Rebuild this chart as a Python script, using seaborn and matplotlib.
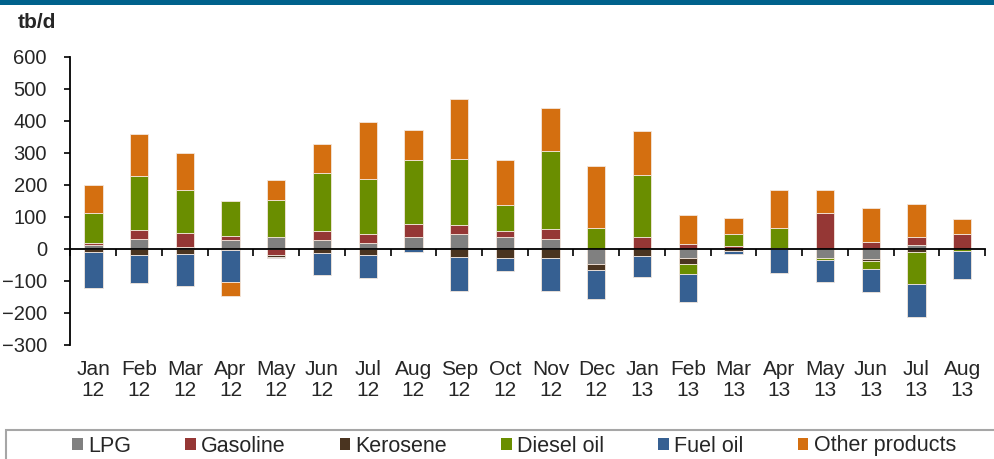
import numpy as np
import pandas as pd
import matplotlib
matplotlib.use("Agg")
import matplotlib.pyplot as plt
import seaborn as sns
from matplotlib.patches import Rectangle, Patch

months = ["Jan\n12", "Feb\n12", "Mar\n12", "Apr\n12", "May\n12", "Jun\n12", "Jul\n12",
          "Aug\n12", "Sep\n12", "Oct\n12", "Nov\n12", "Dec\n12", "Jan\n13", "Feb\n13",
          "Mar\n13", "Apr\n13", "May\n13", "Jun\n13", "Jul\n13", "Aug\n13"]
products = ["LPG", "Gasoline", "Kerosene", "Diesel oil", "Fuel oil", "Other products"]

lpg      = [13, 32, 7, 28, 37, 28, 20, 39, 46, 36, 31, -46, 0, -27, 0, 0, -28, -31, 14, 0]
gasoline = [5, 27, 42, 14, -18, 27, 27, 39, 29, 20, 33, 0, 38, 15, 8, 4, 113, 21, 25, 46]
kerosene = [-10, -18, -15, -4, -8, -12, -18, 0, -25, -27, -28, -21, -21, -21, -5, 0, 0, -5, -8, 0]
diesel   = [95, 168, 135, 109, 117, 183, 172, 201, 206, 83, 242, 66, 193, -30, 38, 62, -5, -26, -101, -7]
fuel     = [-113, -87, -101, -98, -3, -70, -73, -8, -106, -42, -102, -88, -65, -87, -12, -76, -70, -72, -102, -87]
other    = [88, 133, 117, -44, 61, 89, 178, 93, 189, 139, 134, 192, 138, 92, 52, 119, 70, 108, 102, 49]

colors = ["#808080", "#953735", "#4A3420", "#6A8E00", "#366092", "#D46F10"]

sns.set_theme(style="white")
plt.rcParams["font.family"] = ["Liberation Sans", "DejaVu Sans"]

W, H = 995, 459
fig = plt.figure(figsize=(W / 100, H / 100), dpi=100)
ax = fig.add_axes([70.5 / W, (H - 345) / H, (985 - 70.5) / W, (345 - 57) / H])

series = [lpg, gasoline, kerosene, diesel, fuel, other]
n = len(months)
pos_base = np.zeros(n)
neg_base = np.zeros(n)
for name, vals, col in zip(products, series, colors):
    v = np.array(vals, dtype=float)
    bottom = np.where(v >= 0, pos_base, neg_base)
    df = pd.DataFrame({"month": months, "value": v})
    sns.barplot(data=df, x="month", y="value", order=months, bottom=bottom,
                color=col, saturation=1, width=0.4, edgecolor="#f3e6dc",
                linewidth=0.6, errorbar=None, ax=ax)
    pos_base += np.where(v > 0, v, 0)
    neg_base += np.where(v < 0, v, 0)

ax.set_xlim(-0.5, n - 0.5)
ax.set_ylim(-300, 600)
ax.set_yticks(range(-300, 601, 100))
ax.set_xlabel("")
ax.set_ylabel("")
for s in ["top", "right", "bottom"]:
    ax.spines[s].set_visible(False)
ax.spines["left"].set_color("black")
ax.spines["left"].set_linewidth(1.3)
ax.tick_params(axis="y", direction="out", length=4, width=1.2, color="black",
               labelsize=14.5, pad=13, left=True)
ax.tick_params(axis="x", length=0, labelsize=15, pad=11)
for lab in ax.get_xticklabels():
    lab.set_linespacing(1.1)

sec = ax.secondary_xaxis((0 - (-300)) / 900)
sec.set_xticks(np.arange(-0.5, n, 1))
sec.tick_params(direction="out", length=5, width=1.2, color="black", labelbottom=False,
                bottom=True)
sec.spines["bottom"].set_linewidth(1.3)
sec.spines["bottom"].set_color("black")
sec.set_zorder(5)

# top banner and unit label
fig.add_artist(Rectangle((0, 1 - 5 / H), 1, 5 / H, transform=fig.transFigure,
                         facecolor="#00628C", edgecolor="none"))
fig.text(18 / W, 1 - 22 / H, "tb/d", fontsize=15, fontweight="bold", va="center", ha="left")

# legend frame and legend
fig.add_artist(Rectangle((6 / W, -0.1), 1.2, (H - 430) / H + 0.1, transform=fig.transFigure,
                         fill=False, edgecolor="#a6a6a6", linewidth=1.5))
handles = [Patch(facecolor=c, edgecolor="none", label=p) for p, c in zip(products, colors)]
fig.legend(handles=handles, loc="center", bbox_to_anchor=(514 / W, 1 - 446 / H), ncol=6,
           frameon=False, fontsize=15.5, handlelength=0.5, handleheight=0.5,
           handletextpad=0.25, columnspacing=2.5, borderpad=0)

fig.savefig("out.png", dpi=100)
